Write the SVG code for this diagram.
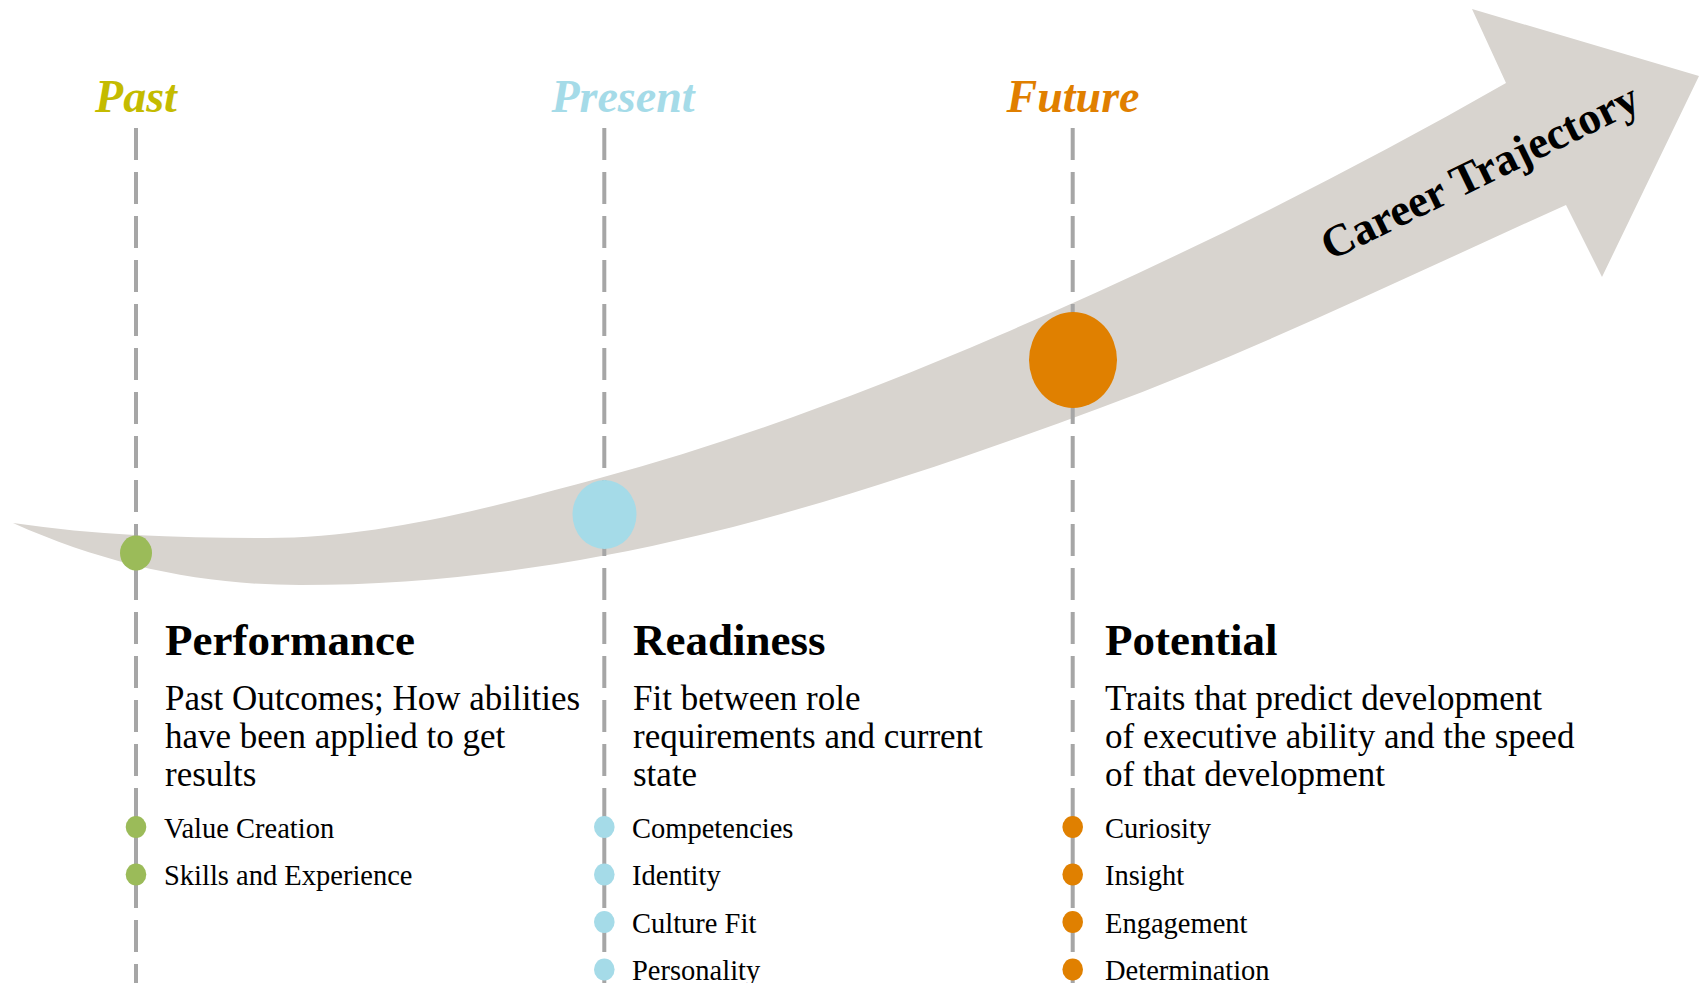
<svg xmlns="http://www.w3.org/2000/svg" width="1700" height="983" viewBox="0 0 1700 983">
  <style>
    .era { font-family: "Liberation Serif", "Times New Roman", serif; font-weight: bold; font-style: italic; font-size: 46px; text-anchor: middle; }
    .head { font-family: "Liberation Serif", "Times New Roman", serif; font-weight: bold; font-size: 45px; fill: #000; }
    .body { font-family: "Liberation Serif", "Times New Roman", serif; font-size: 35px; fill: #000; }
    .item { font-family: "Liberation Serif", "Times New Roman", serif; font-size: 28.5px; fill: #000; }
    .guide { stroke: #a6a6a6; stroke-width: 4; stroke-dasharray: 32 12; fill: none; }
    .green { fill: #9bbb59; }
    .blue { fill: #a5dbe8; }
    .orange { fill: #e08000; }
  </style>

  <!-- curved trajectory arrow -->
  <g id="trajectory">
    <path fill="#d8d4cf" d="M 13,523 C 97.7,535.7 182.3,538 267,538 C 378,538 489,508 600,478 C 733.3,442 866.7,392.3 1000,335 C 1168.7,262.5 1337.3,179.2 1506,83 L 1472,9 L 1699,76 L 1602,277 L 1566,205 C 1410.7,274.9 1255.3,350.5 1100,408 C 966.7,457.3 833.3,503 700,535 C 566.7,567 433.3,585 300,585 C 204.3,585 108.7,566 13,523 Z"/>
    <text x="1330" y="261" transform="rotate(-26 1330 261)" font-family="'Liberation Serif', 'Times New Roman', serif" font-weight="bold" font-size="45" fill="#000">Career Trajectory</text>
  </g>

  <!-- dashed time guides -->
  <g id="connectors">
    <line class="guide" x1="136" y1="128" x2="136" y2="983"/>
    <line class="guide" x1="604.3" y1="128" x2="604.3" y2="983"/>
    <line class="guide" x1="1072.7" y1="128" x2="1072.7" y2="983"/>
  </g>

  <!-- Past / Performance -->
  <g id="past">
    <text class="era" x="136" y="112" fill="#c4bb00">Past</text>
    <ellipse class="green" cx="136" cy="553" rx="16" ry="17.5"/>
    <text class="head" x="165" y="655">Performance</text>
    <text class="body" x="165" y="710">Past Outcomes; How abilities</text>
    <text class="body" x="165" y="748">have been applied to get</text>
    <text class="body" x="165" y="786">results</text>
    <ellipse class="green" cx="136" cy="827" rx="10.3" ry="11"/>
    <text class="item" x="164" y="837.5">Value Creation</text>
    <ellipse class="green" cx="136" cy="874.5" rx="10.3" ry="11"/>
    <text class="item" x="164" y="885">Skills and Experience</text>
  </g>

  <!-- Present / Readiness -->
  <g id="present">
    <text class="era" x="623" y="112" fill="#a5dbe8">Present</text>
    <ellipse class="blue" cx="604.5" cy="514.5" rx="32" ry="34.5"/>
    <text class="head" x="633" y="655">Readiness</text>
    <text class="body" x="633" y="710">Fit between role</text>
    <text class="body" x="633" y="748">requirements and current</text>
    <text class="body" x="633" y="786">state</text>
    <ellipse class="blue" cx="604.3" cy="827" rx="10.3" ry="11"/>
    <text class="item" x="632" y="837.5">Competencies</text>
    <ellipse class="blue" cx="604.3" cy="874.5" rx="10.3" ry="11"/>
    <text class="item" x="632" y="885">Identity</text>
    <ellipse class="blue" cx="604.3" cy="922" rx="10.3" ry="11"/>
    <text class="item" x="632" y="932.5">Culture Fit</text>
    <ellipse class="blue" cx="604.3" cy="969.5" rx="10.3" ry="11"/>
    <text class="item" x="632" y="980">Personality</text>
  </g>

  <!-- Future / Potential -->
  <g id="future">
    <text class="era" x="1073" y="112" fill="#e07f00">Future</text>
    <ellipse class="orange" cx="1073" cy="360" rx="44" ry="48"/>
    <text class="head" x="1105" y="655">Potential</text>
    <text class="body" x="1105" y="710">Traits that predict development</text>
    <text class="body" x="1105" y="748">of executive ability and the speed</text>
    <text class="body" x="1105" y="786">of that development</text>
    <ellipse class="orange" cx="1072.7" cy="827" rx="10.3" ry="11"/>
    <text class="item" x="1105" y="837.5">Curiosity</text>
    <ellipse class="orange" cx="1072.7" cy="874.5" rx="10.3" ry="11"/>
    <text class="item" x="1105" y="885">Insight</text>
    <ellipse class="orange" cx="1072.7" cy="922" rx="10.3" ry="11"/>
    <text class="item" x="1105" y="932.5">Engagement</text>
    <ellipse class="orange" cx="1072.7" cy="969.5" rx="10.3" ry="11"/>
    <text class="item" x="1105" y="980">Determination</text>
  </g>
</svg>
